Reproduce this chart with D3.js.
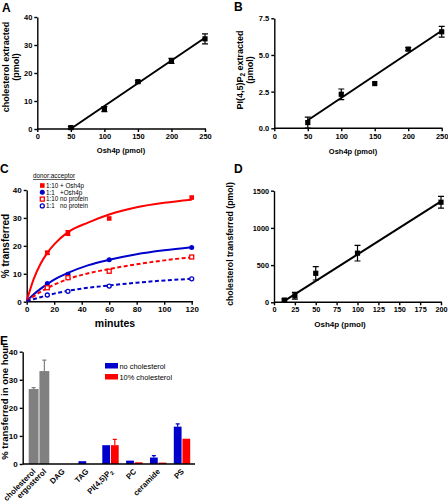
<!DOCTYPE html>
<html><head><meta charset="utf-8">
<script src="https://cdn.jsdelivr.net/npm/d3@7"></script>
<style>
body{margin:0;background:#fff;}
svg{display:block;font-family:"Liberation Sans",Arial,sans-serif;}
.tk text{font-weight:bold;fill:#000;}
.tk path,.tk line{stroke:#000;stroke-width:1.4;}
</style></head><body>
<svg id="c" width="448" height="503"></svg>
<script>
// ---- Panel A data ----
const aX = [50, 100, 150, 200, 250];
const aY = [0.5, 7.1, 16.9, 24.3, 32.2];
const aErr = [0.4, 0.9, 0.4, 0.9, 1.8];
const aFitX = [50, 250];
const aFitY = [0.1, 32.6];
const aXTicks = [0, 50, 100, 150, 200, 250];
const aYTicks = [0, 10, 20, 30, 40];
// ---- Panel B data ----
const bX = [50, 100, 150, 200, 250];
const bY = [0.39, 2.32, 3.05, 5.4, 6.58];
const bErr = [0.37, 0.36, 0, 0.1, 0.37];
const bFitX = [50, 250];
const bFitY = [0.55, 6.65];
const bXTicks = [0, 50, 100, 150, 200, 250];
const bYTicks = [0, 2.5, 5, 7.5];
// ---- Panel C data ----
const cT = [15, 30, 60, 120];
const cRedPlus = [17.5, 24.6, 29.8, 37.3];
const cRedPlusErr = [0.6, 0.9, 0, 0];
const cBluePlus = [6.5, 9.8, 15.0, 19.4];
const cRedNo = [5.0, 8.6, 10.9, 16.0];
const cBlueNo = [2.4, 3.7, 5.6, 8.2];
const cFitT = [0, 5, 10, 15, 20, 30, 45, 60, 80, 100, 120];
const cFitRedPlus = [0.3, 8.0, 13.5, 17.5, 20.5, 24.9, 28.4, 31.2, 33.8, 35.4, 36.5];
const cFitBluePlus = [0.3, 2.6, 4.6, 6.3, 7.9, 10.3, 13.1, 15.0, 17.0, 18.4, 19.5];
const cFitRedNo = [0.3, 1.9, 3.5, 4.9, 6.1, 8.1, 10.2, 11.7, 13.4, 14.8, 15.9];
const cFitBlueNo = [0.3, 0.9, 1.6, 2.3, 2.9, 3.9, 5.0, 5.8, 6.8, 7.6, 8.2];
const cLegend = ["1:10 + Osh4p", "1:1   +Osh4p", "1:10 no protein", "1:1   no protein"];
const cXTicks = [0, 20, 40, 60, 80, 100, 120];
const cYTicks = [0, 10, 20, 30, 40];
// ---- Panel D data ----
const dX = [12.5, 25, 50, 100, 200];
const dY = [30, 88, 390, 660, 1345];
const dErr = [15, 45, 90, 105, 80];
const dFitX = [12.5, 200];
const dFitY = [20, 1357];
const dXTicks = [0, 25, 50, 75, 100, 125, 150, 175, 200];
const dYTicks = [0, 500, 1000, 1500];
// ---- Panel E data ----
const eGroups = ["sterols", "DAG", "TAG", "PI(4,5)P2", "PC", "ceramide", "PS"];
const eSterols = ["cholesterol", "ergosterol"];
const eSterolVals = [26.7, 33.1];
const eSterolErr = [0.5, 3.9];
const eLipids = ["DAG", "TAG", "PI(4,5)P2", "PC", "ceramide", "PS"];
const eNoChol = [0, 1.0, 6.7, 1.2, 2.3, 13.3];
const eNoCholErr = [0, 0, 0, 0, 0.7, 1.0];
const eChol10 = [0, 0, 6.7, 0.6, 0.5, 9.0];
const eChol10Err = [0, 0, 2.1, 0, 0, 0];
const eSeries = ["no cholesterol", "10% cholesterol"];
const eYTicks = [0, 10, 20, 30, 40];

const RED = "#ff0000", BLUE = "#0000cc", GRAY = "#808080";
const svg = d3.select("#c");

function axes(g, x, y, xt, yt, x0, x1, fs, fmtY) {
  const ga = g.append("g").attr("class", "tk").attr("transform", `translate(0,${y.range()[0]})`)
    .call(d3.axisBottom(x).tickValues(xt).tickSize(3).tickSizeOuter(0).tickPadding(2));
  ga.select(".domain").attr("d", `M${x0},0H${x1}`);
  ga.selectAll("text").style("font-size", fs + "px");
  const gy = g.append("g").attr("class", "tk").attr("transform", `translate(${x.range()[0]},0)`)
    .call(d3.axisLeft(y).tickValues(yt).tickSize(3).tickSizeOuter(0).tickPadding(2).tickFormat(fmtY || d3.format("d")));
  gy.selectAll("text").style("font-size", fs + "px");
}
function title(t, x, y) {
  svg.append("text").attr("x", x).attr("y", y).text(t)
    .style("font-size", "12px").style("font-weight", "bold");
}
function ylab(yc, fs) {
  return svg.append("text").attr("transform", `translate(0,${yc}) rotate(-90)`)
    .attr("text-anchor", "middle").style("font-size", fs + "px").style("font-weight", "bold");
}
function xlab(s, x, y, fs) {
  svg.append("text").attr("x", x).attr("y", y).attr("text-anchor", "middle").text(s)
    .style("font-size", fs + "px").style("font-weight", "bold");
}
function scatter(g, x, y, xs, ys, es, fitx, fity) {
  g.append("path").datum(fitx.map((v, i) => [v, fity[i]]))
    .attr("d", d3.line().x(d => x(d[0])).y(d => y(d[1])))
    .attr("stroke", "#000").attr("stroke-width", 2).attr("fill", "none");
  xs.forEach((v, i) => {
    if (es[i] > 0) {
      const cx = x(v), y1 = y(ys[i] + es[i]), y2 = y(ys[i] - es[i]);
      g.append("path").attr("d", `M${cx},${y1}V${y2}M${cx - 3},${y1}H${cx + 3}M${cx - 3},${y2}H${cx + 3}`)
        .attr("stroke", "#000").attr("stroke-width", 1.2).attr("fill", "none");
    }
    g.append("rect").attr("x", x(v) - 2.6).attr("y", y(ys[i]) - 2.6).attr("width", 5.2).attr("height", 5.2).attr("fill", "#000");
  });
}

// ---------------- A ----------------
{
  const x = d3.scaleLinear().domain([0, 250]).range([37.3, 205]);
  const y = d3.scaleLinear().domain([0, 40]).range([129, 17]);
  const g = svg.append("g");
  axes(g, x, y, aXTicks, aYTicks, 37.3, 206, 7.5);
  scatter(g, x, y, aX, aY, aErr, aFitX, aFitY);
  title("A", 2, 12);
  const t = ylab(67, 9);
  t.append("tspan").attr("x", 0).attr("y", 8.5).text("cholesterol extracted");
  t.append("tspan").attr("x", 0).attr("y", 19).text("(pmol)");
  xlab("Osh4p (pmol)", 121, 153, 7.5);
}
// ---------------- B ----------------
{
  const x = d3.scaleLinear().domain([0, 250]).range([274.3, 441.7]);
  const y = d3.scaleLinear().domain([0, 7.5]).range([128.3, 18.3]);
  const g = svg.append("g");
  axes(g, x, y, bXTicks, bYTicks, 274.3, 442.5, 7.5, d3.format(".1f"));
  scatter(g, x, y, bX, bY, bErr, bFitX, bFitY);
  title("B", 234, 10.5);
  const t = ylab(70, 9);
  const t1 = t.append("tspan").attr("x", 0).attr("y", 242.5);
  t1.append("tspan").text("PI(4,5)P");
  t1.append("tspan").attr("dy", 2).style("font-size", "6.5px").text("2");
  t1.append("tspan").attr("dy", -2).text(" extracted");
  t.append("tspan").attr("x", 0).attr("y", 253).text("(pmol)");
  xlab("Osh4p (pmol)", 353, 154, 7.5);
}
// ---------------- C ----------------
{
  const x = d3.scaleLinear().domain([0, 120]).range([26.7, 191.7]);
  const y = d3.scaleLinear().domain([0, 40]).range([301.7, 190]);
  const g = svg.append("g");
  axes(g, x, y, cXTicks, cYTicks, 26.7, 193, 8);
  const line = d3.line().x(d => x(d[0])).y(d => y(d[1])).curve(d3.curveMonotoneX);
  const fits = [[cFitRedPlus, RED, null], [cFitBluePlus, BLUE, null], [cFitRedNo, RED, "4,2.5"], [cFitBlueNo, BLUE, "4,2.5"]];
  fits.forEach(([vals, col, dash]) => {
    g.append("path").datum(cFitT.map((t, i) => [t, vals[i]])).attr("d", line)
      .attr("fill", "none").attr("stroke", col).attr("stroke-width", 2).attr("stroke-dasharray", dash);
  });
  cT.forEach((t, i) => {
    const e = cRedPlusErr[i];
    if (e > 0) {
      const cx = x(t), y1 = y(cRedPlus[i] + e), y2 = y(cRedPlus[i] - e);
      g.append("path").attr("d", `M${cx},${y1}V${y2}M${cx - 2.5},${y1}H${cx + 2.5}M${cx - 2.5},${y2}H${cx + 2.5}`)
        .attr("stroke", RED).attr("stroke-width", 1).attr("fill", "none");
    }
  });
  function mark(gg, kind, cx, cy) {
    if (kind === 0) gg.append("rect").attr("x", cx - 2.3).attr("y", cy - 2.3).attr("width", 4.6).attr("height", 4.6).attr("fill", RED);
    if (kind === 1) gg.append("circle").attr("cx", cx).attr("cy", cy).attr("r", 2.5).attr("fill", BLUE);
    if (kind === 2) gg.append("rect").attr("x", cx - 2).attr("y", cy - 2).attr("width", 4).attr("height", 4).attr("fill", "#fff").attr("stroke", RED).attr("stroke-width", 1.3);
    if (kind === 3) gg.append("circle").attr("cx", cx).attr("cy", cy).attr("r", 2).attr("fill", "#fff").attr("stroke", BLUE).attr("stroke-width", 1.3);
  }
  [cRedPlus, cBluePlus, cRedNo, cBlueNo].forEach((vals, k) => {
    cT.forEach((t, i) => mark(g, k, x(t), y(vals[i])));
  });
  svg.append("text").attr("x", 33).attr("y", 178).text("donor:acceptor")
    .style("font-size", "6.3px").style("text-decoration", "underline");
  cLegend.forEach((s, i) => {
    const yy = 185.5 + i * 6.8;
    mark(svg, i, 42.3, yy);
    svg.append("text").attr("x", 46).attr("y", yy + 2.2).text(s)
      .style("font-size", "6.3px").style("white-space", "pre");
  });
  title("C", 0, 173);
  const t = ylab(246, 10);
  t.append("tspan").attr("x", 0).attr("y", 9).text("% transferred");
  xlab("minutes", 115, 327, 10.5);
}
// ---------------- D ----------------
{
  const x = d3.scaleLinear().domain([0, 200]).range([274, 441]);
  const y = d3.scaleLinear().domain([0, 1500]).range([302.3, 190.7]);
  const g = svg.append("g");
  axes(g, x, y, dXTicks, dYTicks, 274, 442, 7.3);
  scatter(g, x, y, dX, dY, dErr, dFitX, dFitY);
  title("D", 234, 173);
  const t = ylab(244, 8.7);
  t.append("tspan").attr("x", 0).attr("y", 233).text("cholesterol transferred (pmol)");
  xlab("Osh4p (pmol)", 340, 327, 8);
}
// ---------------- E ----------------
{
  const xg = d3.scalePoint().domain(eGroups).range([39, 182]);
  const y = d3.scaleLinear().domain([0, 40]).range([464, 351.7]);
  const g = svg.append("g");
  const gy = g.append("g").attr("class", "tk").attr("transform", "translate(22.7,0)")
    .call(d3.axisLeft(y).tickValues(eYTicks).tickSize(3).tickSizeOuter(0).tickPadding(2));
  gy.selectAll("text").style("font-size", "8px");
  const inS = d3.scaleBand().domain(eSterols).range([-10.3, 10.3]).paddingInner(0.08);
  const inL = d3.scaleBand().domain(eSeries).range([-8.2, 8.2]).paddingInner(0.1);
  function bar(x0, w, v, e, col) {
    g.append("rect").attr("x", x0).attr("y", y(v)).attr("width", w).attr("height", y(0) - y(v)).attr("fill", col);
    if (e > 0) {
      const cx = x0 + w / 2;
      g.append("path").attr("d", `M${cx},${y(v)}V${y(v + e)}M${cx - 2},${y(v + e)}H${cx + 2}`)
        .attr("stroke", col).attr("stroke-width", 1.2).attr("fill", "none");
    }
  }
  eSterols.forEach((s, i) => bar(xg("sterols") + inS(s), inS.bandwidth(), eSterolVals[i], eSterolErr[i], GRAY));
  eLipids.forEach((s, i) => {
    if (eNoChol[i] > 0) bar(xg(s) + inL(eSeries[0]), inL.bandwidth(), eNoChol[i], eNoCholErr[i], BLUE);
    if (eChol10[i] > 0) bar(xg(s) + inL(eSeries[1]), inL.bandwidth(), eChol10[i], eChol10Err[i], RED);
  });
  g.append("path").attr("d", "M22.7,464H195").attr("stroke", "#000").attr("stroke-width", 1.4);
  const labs = eSterols.map(s => [s, xg("sterols") + inS(s) + inS.bandwidth() / 2])
    .concat(eLipids.map(s => [s, xg(s)]));
  labs.forEach(([s, cx]) => {
    const t = svg.append("text").attr("transform", `translate(${cx + 2.5},${472}) rotate(-45)`)
      .attr("text-anchor", "end").style("font-size", "7.8px").style("font-weight", "bold");
    if (s === "PI(4,5)P2") {
      t.append("tspan").text("PI(4,5)P");
      t.append("tspan").attr("dy", 2).style("font-size", "5.5px").text("2");
    } else t.text(s);
  });
  const cols = [BLUE, RED];
  eSeries.forEach((s, i) => {
    svg.append("rect").attr("x", 105).attr("y", 363 + i * 11).attr("width", 13).attr("height", 5.5).attr("fill", cols[i]);
    svg.append("text").attr("x", 119.5).attr("y", 368.5 + i * 11).text(s).style("font-size", "7.4px");
  });
  title("E", 0, 345);
  const t = ylab(402, 9.5);
  t.append("tspan").attr("x", 0).attr("y", 8).text("% transferred in one hour");
}
</script></body></html>
